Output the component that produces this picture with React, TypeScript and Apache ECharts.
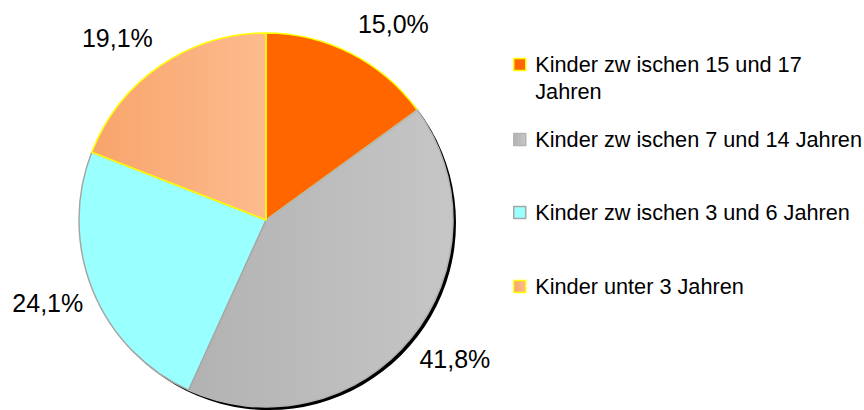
import React, { useEffect, useRef } from 'react';
import * as echarts from 'echarts';

const categories = [
  'Kinder zw ischen 15 und 17 Jahren',
  'Kinder zw ischen 7 und 14 Jahren',
  'Kinder zw ischen 3 und 6 Jahren',
  'Kinder unter 3 Jahren',
];
const values = [15.0, 41.8, 24.1, 19.1];
const legendTexts = [
  '\nKinder zw ischen 15 und 17\nJahren',
  'Kinder zw ischen 7 und 14 Jahren',
  'Kinder zw ischen 3 und 6 Jahren',
  'Kinder unter 3 Jahren',
];

const FONT = '"Liberation Sans", Arial, sans-serif';

const fills = [
  '#ff6600',
  new echarts.graphic.LinearGradient(0, 0, 1, 0, [
    { offset: 0, color: '#b2b2b2' },
    { offset: 1, color: '#c6c6c6' },
  ]),
  '#99ffff',
  new echarts.graphic.LinearGradient(0, 0, 1, 0, [
    { offset: 0, color: '#f8a46b' },
    { offset: 1, color: '#fdbb8e' },
  ]),
];
const borders = ['#ffff00', '#b4b4b4', '#a6a6a6', '#ffff00'];
const legendTops = [24, 126, 199, 273];
const labelShift = [-13, -22, -26, -16];

const fmt = (v: number) => v.toFixed(1).replace('.', ',') + '%';

export default function App() {
  const ref = useRef<HTMLDivElement>(null);
  useEffect(() => {
    if (!ref.current) return;
    const chart = echarts.init(ref.current, null, { renderer: 'svg' });
    const legends = categories.map((name, i) => ({
      data: [name],
      left: 513,
      top: legendTops[i],
      padding: 0,
      orient: 'vertical',
      selectedMode: false,
      icon: 'path://M0,0L10,0L10,10L0,10Z',
      itemWidth: 21,
      itemHeight: 12,
      itemStyle: { borderWidth: 1.5 },
      formatter: (n: string) => legendTexts[categories.indexOf(n)],
      textStyle: { fontSize: 21.7, lineHeight: 27, fontFamily: FONT, color: '#000' },
    }));
    chart.setOption({
      animation: false,
      backgroundColor: '#fff',
      legend: legends,
      series: [
        {
          type: 'pie',
          name: 'shadow',
          silent: true,
          center: [269, 223],
          radius: 187,
          label: { show: false },
          labelLine: { show: false },
          itemStyle: { color: '#000' },
          data: [{ value: 1, name: '' }],
        },
        {
          type: 'pie',
          name: 'Kinder',
          center: [266, 220],
          radius: 187,
          startAngle: 90,
          clockwise: true,
          avoidLabelOverlap: false,
          data: categories.map((name, i) => ({
            name,
            value: values[i],
            itemStyle: { color: fills[i], borderColor: borders[i], borderWidth: 1.5 },
            labelLine: { show: false, length: 33, length2: labelShift[i] },
          })),
          label: {
            show: true,
            position: 'outside',
            formatter: (p: any) => fmt(p.value),
            fontSize: 25,
            fontFamily: FONT,
            color: '#000',
            bleedMargin: 0,
            distanceToLabelLine: 5,
          },
          labelLine: { show: false, length: 33, length2: -16 },
          emphasis: { disabled: true },
        },
      ],
    });
    return () => chart.dispose();
  }, []);
  return (
    <div
      ref={ref}
      style={{ position: 'fixed', left: 0, top: 0, width: 864, height: 410 }}
    />
  );
}
